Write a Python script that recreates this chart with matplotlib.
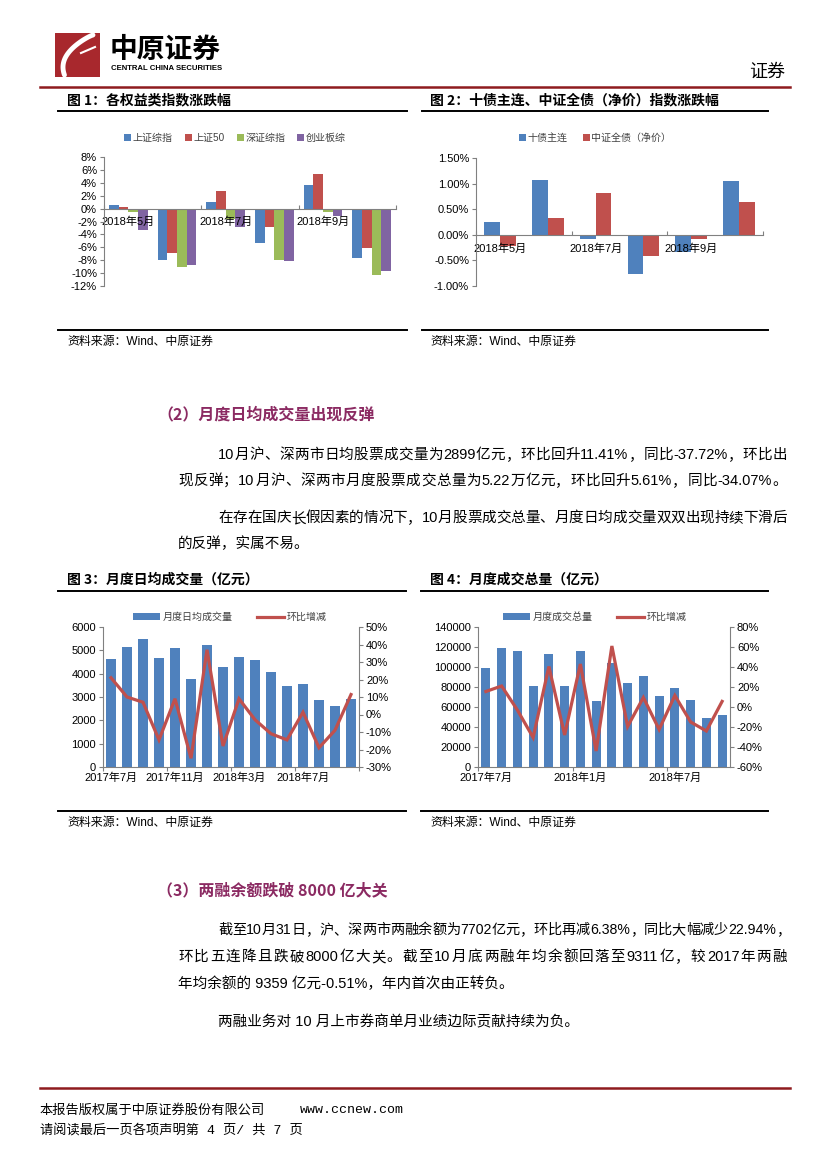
import re
import numpy as np
import matplotlib
matplotlib.use('Agg')
import matplotlib.pyplot as plt
from matplotlib.lines import Line2D
from matplotlib.patches import Rectangle
from matplotlib.ticker import FuncFormatter

W, H = 827, 1169
FONT = ['Liberation Sans', 'Noto Sans CJK SC']
CJK = ['Noto Sans CJK SC']
plt.rcParams['font.family'] = FONT
plt.rcParams['axes.unicode_minus'] = False

# ---------------- data ----------------
eq_months = ['2018年5月', '2018年6月', '2018年7月', '2018年8月', '2018年9月', '2018年10月']
eq_series = ['上证综指', '上证50', '深证综指', '创业板综']
sh_comp = [0.5, -8.0, 1.0, -5.4, 3.6, -7.7]
sse50 = [0.2, -6.9, 2.7, -2.8, 5.3, -6.1]
sz_comp = [-0.6, -9.1, -1.6, -8.0, -0.6, -10.3]
gem = [-3.3, -8.8, -2.9, -8.1, -1.2, -9.7]

bond_series = ['十债主连', '中证全债（净价）']
t_bond = [0.25, 1.08, -0.08, -0.76, -0.33, 1.06]
csi_bond = [-0.22, 0.33, 0.82, -0.42, -0.08, 0.65]

vol_months = ['2017年7月', '2017年8月', '2017年9月', '2017年10月', '2017年11月', '2017年12月',
              '2018年1月', '2018年2月', '2018年3月', '2018年4月', '2018年5月', '2018年6月',
              '2018年7月', '2018年8月', '2018年9月', '2018年10月']
daily_avg = [4640, 5130, 5490, 4670, 5090, 3790, 5220, 4290, 4700, 4570, 4070, 3490,
             3540, 2860, 2600, 2899]
daily_mom = [21, 10, 7, -14.5, 9, -25, 37, -18, 9, -3, -11, -14.5, 1.3, -19, -9, 11.4]
monthly_total = [98800, 119000, 115800, 80600, 113200, 81200, 116000, 65700, 104300, 84000,
                 91000, 71000, 79000, 67200, 49500, 52200]
total_mom = [15.5, 21, -3, -30.5, 40.5, -28, 43, -44, 61, -19.5, 9.5, -22.5, 11.5, -15, -24, 5.6]

BLUE, RED, GREEN, PURPLE = '#4F81BD', '#C0504D', '#9BBB59', '#8064A2'
AXC = '#808080'
DARKRED = '#8E1B1E'
HEAD = '#8B2A62'
TICKFS = 8
LEGFS = 7.2

fig = plt.figure(figsize=(W / 100, H / 100), dpi=100)
renderer = fig.canvas.get_renderer()


def rect(l, t, r, b):
    return [l / W, 1 - b / H, (r - l) / W, (b - t) / H]


def txt(x, y, s, **kw):
    kw.setdefault('va', 'center')
    kw.setdefault('family', FONT)
    return fig.text(x / W, 1 - y / H, s, **kw)


def hline(x0, x1, y, color='black', lw=1.4):
    fig.add_artist(Line2D([x0 / W, x1 / W], [1 - y / H, 1 - y / H], color=color, lw=lw))


def justify(x0, x1, y, s, fs):
    toks = re.findall(r'[0-9A-Za-z.%\-]+|\S', s.replace(' ', ''))
    objs, widths = [], []
    for tk in toks:
        t = txt(0, y, tk, fontsize=fs, ha='left')
        objs.append(t)
        widths.append(t.get_window_extent(renderer).width)
    gap = ((x1 - x0) - sum(widths)) / max(len(toks) - 1, 1)
    cur = x0
    for t, w in zip(objs, widths):
        t.set_x(cur / W)
        cur += w + gap


# ---------------- header ----------------
lax = fig.add_axes(rect(55, 33, 100, 77))
lax.set_xlim(0, 45)
lax.set_ylim(0, 44)
lax.axis('off')
lax.add_patch(Rectangle((0, 0), 45, 44, color='#A8282D'))
tt = np.linspace(0, 1, 50)
lax.plot(38 - 30 * np.sin(tt * np.pi * 0.6), 42 - 40 * tt ** 1.2, color='white', lw=3.5,
         solid_capstyle='round')
lax.plot(40 - 14 * tt, 30 - 6 * tt, color='white', lw=1.5)
txt(110, 50, '中原证券', fontsize=20, fontweight='bold', family=CJK, ha='left')
txt(111, 69, 'CENTRAL CHINA SECURITIES', fontsize=5.6, fontweight='bold', ha='left')
txt(785, 72, '证券', fontsize=13, family=CJK, ha='right')
hline(40, 790, 87, DARKRED, 1.8)

# ---------------- chart titles / frames ----------------
TFS = 10
txt(67, 100, '图 1：各权益类指数涨跌幅', fontsize=TFS, fontweight='bold', family=CJK, ha='left')
txt(430, 100, '图 2：十债主连、中证全债（净价）指数涨跌幅', fontsize=TFS, fontweight='bold',
    family=CJK, ha='left')
hline(58, 407, 111)
hline(422, 768, 111)
hline(58, 407, 330)
hline(422, 768, 330)
txt(67, 342, '资料来源：Wind、中原证券', fontsize=8.6, ha='left')
txt(430, 342, '资料来源：Wind、中原证券', fontsize=8.6, ha='left')

txt(67, 580, '图 3：月度日均成交量（亿元）', fontsize=TFS, fontweight='bold', family=CJK, ha='left')
txt(430, 580, '图 4：月度成交总量（亿元）', fontsize=TFS, fontweight='bold', family=CJK, ha='left')
hline(58, 406, 591)
hline(421, 768, 591)
hline(58, 406, 811)
hline(421, 768, 811)
txt(67, 823, '资料来源：Wind、中原证券', fontsize=8.6, ha='left')
txt(430, 823, '资料来源：Wind、中原证券', fontsize=8.6, ha='left')


def style_zero_axis(ax):
    ax.spines['bottom'].set_position(('data', 0))
    for s in ('top', 'right'):
        ax.spines[s].set_visible(False)
    for s in ('left', 'bottom'):
        ax.spines[s].set_color(AXC)
        ax.spines[s].set_linewidth(0.8)
    ax.tick_params(axis='y', length=3, width=0.8, color=AXC, labelsize=TICKFS, pad=2)
    ax.tick_params(axis='x', which='major', length=0, labelsize=TICKFS, pad=6)
    ax.tick_params(axis='x', which='minor', length=3, width=0.8, color=AXC, direction='in')
    ax.set_facecolor('none')


# ---------------- chart 1 ----------------
ax1 = fig.add_axes(rect(104, 157, 396, 286))
x6 = np.arange(len(eq_months))
bw = 0.2
for i, (vals, c, lab) in enumerate(zip([sh_comp, sse50, sz_comp, gem],
                                       [BLUE, RED, GREEN, PURPLE], eq_series)):
    ax1.bar(x6 + (i - 1.5) * bw, vals, bw, color=c, label=lab)
ax1.set_xlim(-0.5, len(eq_months) - 0.5)
ax1.set_ylim(-12, 8)
ax1.set_yticks(np.arange(-12, 9, 2))
ax1.yaxis.set_major_formatter(FuncFormatter(lambda v, p: f'{v:.0f}%'))
ax1.set_xticks(x6[::2])
ax1.set_xticklabels(eq_months[::2])
ax1.set_xticks(np.arange(-0.5, len(eq_months), 2), minor=True)
style_zero_axis(ax1)
ax1.legend(loc='center', bbox_to_anchor=(235 / W, 1 - 138 / H), bbox_transform=fig.transFigure,
           ncol=4, frameon=False, fontsize=LEGFS, handlelength=0.7, handleheight=0.7,
           handletextpad=0.15, columnspacing=1.2, labelcolor='#404040')

# ---------------- chart 2 ----------------
ax2 = fig.add_axes(rect(476, 158, 763, 286))
bw2 = 0.33
ax2.bar(x6 - bw2 / 2, t_bond, bw2, color=BLUE, label=bond_series[0])
ax2.bar(x6 + bw2 / 2, csi_bond, bw2, color=RED, label=bond_series[1])
ax2.set_xlim(-0.5, len(eq_months) - 0.5)
ax2.set_ylim(-1.0, 1.5)
ax2.set_yticks(np.arange(-1.0, 1.51, 0.5))
ax2.yaxis.set_major_formatter(FuncFormatter(lambda v, p: f'{v:.2f}%'))
ax2.set_xticks(x6[::2])
ax2.set_xticklabels(eq_months[::2])
ax2.set_xticks(np.arange(-0.5, len(eq_months), 2), minor=True)
style_zero_axis(ax2)
ax2.legend(loc='center', bbox_to_anchor=(595 / W, 1 - 138 / H), bbox_transform=fig.transFigure,
           ncol=2, frameon=False, fontsize=LEGFS, handlelength=0.7, handleheight=0.7,
           handletextpad=0.15, columnspacing=1.5, labelcolor='#404040')


# ---------------- charts 3 & 4 ----------------
def combo(rct, bars, line, ylim, ystep, rlim, rstep, step, bar_label, legend_x, lfmt):
    ax = fig.add_axes(rct)
    x = np.arange(len(vol_months))
    ax.bar(x, bars, 0.58, color=BLUE, label=bar_label)
    ax.set_xlim(-0.5, len(vol_months) - 0.5)
    ax.set_ylim(*ylim)
    ax.set_yticks(np.arange(ylim[0], ylim[1] + 1, ystep))
    ax.yaxis.set_major_formatter(FuncFormatter(lfmt))
    ax.set_xticks(x[::step])
    ax.set_xticklabels(vol_months[::step])
    ax.set_xticks(np.arange(-0.5, len(vol_months), step), minor=True)
    ax.spines['top'].set_visible(False)
    ax.spines['right'].set_visible(False)
    for s in ('left', 'bottom'):
        ax.spines[s].set_color(AXC)
        ax.spines[s].set_linewidth(0.8)
    ax.tick_params(axis='y', length=3, width=0.8, color=AXC, labelsize=TICKFS, pad=2)
    ax.tick_params(axis='x', which='major', length=0, labelsize=TICKFS, pad=4)
    ax.tick_params(axis='x', which='minor', length=3, width=0.8, color=AXC)
    axr = ax.twinx()
    axr.plot(x, line, color=RED, lw=2.3, label='环比增减', solid_joinstyle='miter')
    axr.set_ylim(*rlim)
    axr.set_yticks(np.arange(rlim[0], rlim[1] + 1, rstep))
    axr.yaxis.set_major_formatter(FuncFormatter(lambda v, p: f'{v:.0f}%'))
    for s in ('top', 'left', 'bottom'):
        axr.spines[s].set_visible(False)
    axr.spines['right'].set_color(AXC)
    axr.spines['right'].set_linewidth(0.8)
    axr.tick_params(axis='y', length=3, width=0.8, color=AXC, labelsize=TICKFS, pad=2)
    h1, l1 = ax.get_legend_handles_labels()
    h2, l2 = axr.get_legend_handles_labels()
    axr.legend(h1 + h2, l1 + l2, loc='center', bbox_to_anchor=(legend_x / W, 1 - 617 / H),
               bbox_transform=fig.transFigure, ncol=2, frameon=False, fontsize=LEGFS,
               handlelength=2.7, handleheight=0.7, handletextpad=0.3, columnspacing=2.4,
               labelcolor='#404040')
    return ax, axr


combo(rect(103, 627, 359, 767), daily_avg, daily_mom, (0, 6000), 1000, (-30, 50), 10, 4,
      '月度日均成交量', 230, lambda v, p: f'{v:.0f}')
combo(rect(478, 627, 730, 767), monthly_total, total_mom, (0, 140000), 20000, (-60, 80), 20, 6,
      '月度成交总量', 595, lambda v, p: f'{v:.0f}')

# ---------------- body text ----------------
BFS = 10.5
txt(157, 414, '（2）月度日均成交量出现反弹', fontsize=11.5, fontweight='bold', family=CJK,
    color=HEAD, ha='left')
justify(218, 787, 455, '10 月沪、深两市日均股票成交量为 2899 亿元，环比回升 11.41%，同比-37.72%，环比出', BFS)
justify(178, 787, 481, '现反弹；10 月沪、深两市月度股票成交总量为 5.22 万亿元，环比回升 5.61%，同比-34.07%。', BFS)
justify(218, 787, 518, '在存在国庆长假因素的情况下，10 月股票成交总量、月度日均成交量双双出现持续下滑后', BFS)
txt(178, 544, '的反弹，实属不易。', fontsize=BFS, ha='left')

txt(157, 890, '（3）两融余额跌破 8000 亿大关', fontsize=11.5, fontweight='bold', family=CJK,
    color=HEAD, ha='left')
justify(218, 790, 930, '截至 10 月 31 日，沪、深两市两融余额为 7702 亿元，环比再减 6.38%，同比大幅减少 22.94%，', 10.2)
justify(178, 787, 957, '环比五连降且跌破 8000 亿大关。截至 10 月底两融年均余额回落至 9311 亿，较 2017 年两融', BFS)
txt(178, 984, '年均余额的 9359 亿元-0.51%，年内首次由正转负。', fontsize=BFS, ha='left')
txt(218, 1022, '两融业务对 10 月上市券商单月业绩边际贡献持续为负。', fontsize=BFS, ha='left')

# ---------------- footer ----------------
hline(40, 790, 1088, DARKRED, 1.8)
txt(40, 1110, '本报告版权属于中原证券股份有限公司', fontsize=9.5, ha='left', family=CJK)
txt(300, 1110, 'www.ccnew.com', fontsize=9.5, ha='left', family=['Liberation Mono'])
txt(40, 1131, '请阅读最后一页各项声明第 4 页/ 共 7 页', fontsize=9.5, ha='left',
    family=['Liberation Mono', 'Noto Sans CJK SC'])

fig.savefig('out.png', dpi=100)
